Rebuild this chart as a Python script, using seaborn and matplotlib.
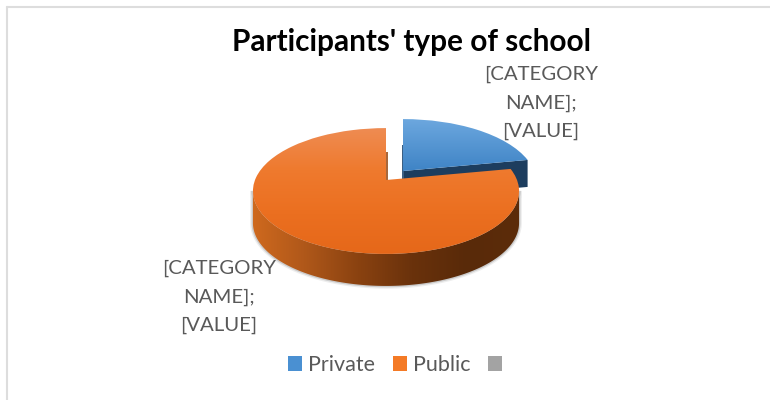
import numpy as np
import matplotlib
matplotlib.use("Agg")
import matplotlib.pyplot as plt
import seaborn as sns
from matplotlib.colors import LinearSegmentedColormap
from matplotlib.lines import Line2D
from matplotlib.patches import Patch, Polygon
from matplotlib.path import Path
from matplotlib.transforms import Transform

categories = ["Private", "Public", ""]
values = [22, 78, 0]
legend_colors = ["#4A90D2", "#F47A26", "#A3A3A3"]
title_text = "Participants' type of school"
label_text = "[CATEGORY\nNAME];\n[VALUE]"

sns.set_theme(style="white")
plt.rcParams["font.family"] = ["Lato", "DejaVu Sans"]

W, H = 770, 400
fig = plt.figure(figsize=(W / 100, H / 100), dpi=100, facecolor="white")
ax = fig.add_axes([0, 0, 1, 1])


class TiltedDisc(Transform):
    """Perspective view of the unit disc, laid back into the page."""
    input_dims = output_dims = 2
    has_inverse = False

    def __init__(self, dx=0.0, dy=0.0):
        super().__init__()
        self.dx, self.dy = dx, dy

    def transform_non_affine(self, xy):
        xy = np.asarray(xy, dtype=float)
        f = 1 + 0.175 * xy[:, 1]
        return np.column_stack((386 + self.dx + 131 * xy[:, 0] / f,
                                180 + self.dy - 61 * xy[:, 1] / f))

    def transform_path_non_affine(self, path):
        return Path(self.transform_non_affine(path.vertices), path.codes)


def gradient(stops, extent, horizontal=False, clip=None, zorder=1):
    ramp = np.linspace(0, 1, 256)
    img = ramp[None, :] if horizontal else ramp[:, None]
    cmap = LinearSegmentedColormap.from_list("ramp", stops)
    im = ax.imshow(img, cmap=cmap, extent=extent, aspect="auto",
                   origin="upper", zorder=zorder, interpolation="bilinear")
    im.set_clip_path(clip)
    return im


wedges, _ = ax.pie(values, startangle=90, counterclock=False,
                   colors=legend_colors, radius=1)
private, public = wedges[0], wedges[1]
wedges[2].set_visible(False)

px, py = 17, -9   # pull-out of the private slice
depth = 32

# Side of the pulled-out slice
end = np.deg2rad(private.theta1 if private.theta1 != 90 else private.theta2)
tip = TiltedDisc(px, py).transform_non_affine(np.array([[0, 0], [np.cos(end), np.sin(end)]]))
side = np.vstack((tip, tip[::-1] + [0, depth - 5]))
ax.add_patch(Polygon(side, closed=True, fc="#1D3D5E", ec="none", zorder=1))
ax.add_patch(Polygon([[tip[0, 0] - 1, tip[0, 1] - 26], [tip[0, 0] + 1, tip[0, 1] - 26],
                      [tip[0, 0] + 1, tip[0, 1] + 10], [tip[0, 0] - 1, tip[0, 1] + 10]],
                     closed=True, fc="#3C5F82", ec="none", zorder=1.5))

# Top of the pulled-out slice
private.set_transform(TiltedDisc(px, py) + ax.transData)
private.set(clip_on=False, zorder=2, fc="none", ec="none")
gradient(["#6DA8DF", "#3E83C5"], (395, 535, 172, 118), clip=private, zorder=2)

# Rim of the large slice
t = np.linspace(0, 2 * np.pi, 721)
ring = TiltedDisc().transform_non_affine(np.column_stack((np.cos(t), np.sin(t))))
lo, hi = ring[:, 0].argmin(), ring[:, 0].argmax()
lower = np.vstack((ring[lo:], ring[:hi + 1])) if lo > hi else ring[lo:hi + 1]
rim = np.vstack((lower, lower[::-1] + [0, depth]))
for lw, a in ((4, 0.10), (2, 0.22)):
    ax.add_patch(Polygon(rim, closed=True, fc="none", ec="#555555", lw=lw, alpha=a, zorder=2.5))
rim_patch = Polygon(rim, closed=True, fc="none", ec="none", zorder=3)
ax.add_patch(rim_patch)
gradient(["#D06A1E", "#B0581A", "#8A4210", "#6A320C", "#592A09", "#5C2C0A"],
         (250, 520, 295, 180), horizontal=True, clip=rim_patch, zorder=3)

# Inner wall of the large slice at the cut
ax.add_patch(Polygon([[385.5, 152], [387.5, 152], [387.5, 180], [385.5, 180]],
                     closed=True, fc="#A8683C", ec="none", zorder=3.5))

# Top of the large slice
public.set_transform(TiltedDisc() + ax.transData)
public.set(clip_on=False, zorder=4, fc="none", ec="none")
gradient(["#EE8D55", "#EF7A2E", "#EB6F20", "#E56719"], (245, 525, 258, 125),
         clip=public, zorder=4)

# Title and data labels
ax.text(411, 42, title_text, ha="center", va="center", fontsize=21.4,
        fontweight="bold", color="black", zorder=6)
ax.text(541, 103, label_text, ha="center", va="center", fontsize=14.7,
        color="#595959", linespacing=1.78, zorder=6)
ax.text(219, 297, label_text, ha="center", va="center", fontsize=14.7,
        color="#595959", linespacing=1.78, zorder=6)

# Chart frame: only the top and left edges show
ax.add_line(Line2D([7, 7], [7, H], color="#DDDDDD", lw=1.5, zorder=0))
ax.add_line(Line2D([7, W], [7, 7], color="#DDDDDD", lw=1.5, zorder=0))

handles = [Patch(fc=c, ec="none") for c in legend_colors]
ax.legend(handles, categories, loc="center", bbox_to_anchor=(398, 365),
          bbox_transform=ax.transData, ncol=3, frameon=False, fontsize=15.5,
          labelcolor="#595959", handlelength=0.66, handleheight=0.66,
          handletextpad=0.28, columnspacing=0.82, borderpad=0, borderaxespad=0)

ax.set_xlim(0, W)
ax.set_ylim(H, 0)
ax.set_aspect("auto")
ax.axis("off")

fig.savefig("out.png", dpi=100, facecolor="white")
